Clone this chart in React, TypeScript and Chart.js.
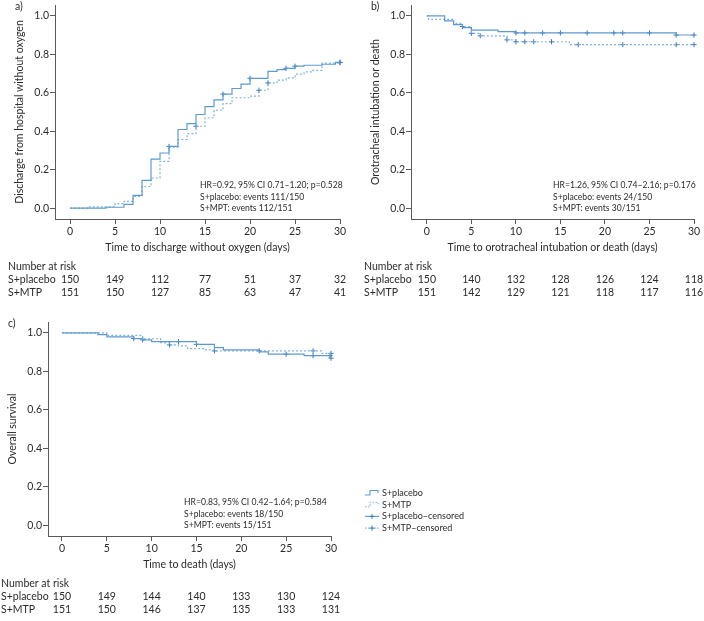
import React, { useEffect, useRef } from 'react';
import { Chart, registerables } from 'chart.js';

Chart.register(...registerables);

const FONT = 'Lato, "Noto Sans", sans-serif';
const TEXT = '#2b2b2b';
const AXIS = '#5a5a5a';
const SOLID = '#5e9ad0';
const DOTTED = '#7fb2de';
const CENS = '#3b78b6';

// shared axis ticks
const xTicks = [0, 5, 10, 15, 20, 25, 30];
const yTicks = [0, 0.2, 0.4, 0.6, 0.8, 1.0];

// ---------- Panel a: discharge without oxygen (cumulative) ----------
const aPlaceboDays = [0, 4, 6, 7, 8, 9, 10, 11, 12, 13, 14, 15, 16, 17, 18, 19, 20, 22, 23, 24, 25, 26, 28, 29.5, 30];
const aPlaceboProb = [0, 0.005, 0.02, 0.067, 0.145, 0.255, 0.287, 0.321, 0.409, 0.44, 0.487, 0.528, 0.563, 0.593, 0.622, 0.645, 0.675, 0.711, 0.72, 0.727, 0.738, 0.743, 0.748, 0.758, 0.758];
const aMtpDays = [0, 2, 5, 6, 7, 8, 9, 10, 11, 12, 13, 14, 15, 16, 17, 18, 20, 21, 22, 23, 24, 25, 26, 27, 28, 30];
const aMtpProb = [0, 0.007, 0.024, 0.036, 0.062, 0.113, 0.157, 0.243, 0.318, 0.357, 0.388, 0.426, 0.47, 0.509, 0.543, 0.574, 0.582, 0.613, 0.651, 0.666, 0.677, 0.697, 0.708, 0.716, 0.754, 0.757];
const aPlaceboCensDays = [11, 17, 20, 24, 25, 30];
const aPlaceboCensProb = [0.321, 0.593, 0.675, 0.727, 0.738, 0.758];
const aMtpCensDays = [14, 21, 22, 30];
const aMtpCensProb = [0.426, 0.613, 0.651, 0.757];
const aRiskPlacebo = [150, 149, 112, 77, 51, 37, 32];
const aRiskMtp = [151, 150, 127, 85, 63, 47, 41];
const aNotes = ['HR=0.92, 95% CI 0.71\u20131.20; p=0.528', 'S+placebo: events 111/150', 'S+MPT: events 112/151'];

// ---------- Panel b: orotracheal intubation or death ----------
const bPlaceboDays = [0, 2, 3, 4, 5, 8, 10, 28, 30];
const bPlaceboProb = [1, 0.973, 0.954, 0.938, 0.925, 0.918, 0.911, 0.9, 0.9];
const bMtpDays = [0, 0.2, 3, 4, 5, 6, 9, 10, 16, 30];
const bMtpProb = [1, 0.981, 0.961, 0.944, 0.909, 0.896, 0.875, 0.865, 0.85, 0.85];
const bPlaceboCensDays = [10, 11, 13, 15, 18, 21, 22, 25, 28, 30];
const bPlaceboCensProb = [0.911, 0.911, 0.911, 0.911, 0.911, 0.911, 0.911, 0.911, 0.9, 0.9];
const bMtpCensDays = [4, 5, 6, 9, 10, 11, 12, 14, 17, 22, 28, 30];
const bMtpCensProb = [0.944, 0.909, 0.896, 0.875, 0.865, 0.865, 0.865, 0.865, 0.85, 0.85, 0.85, 0.85];
const bRiskPlacebo = [150, 140, 132, 128, 126, 124, 118];
const bRiskMtp = [151, 142, 129, 121, 118, 117, 116];
const bNotes = ['HR=1.26, 95% CI 0.74\u20132.16; p=0.176', 'S+placebo: events 24/150', 'S+MPT: events 30/151'];

// ---------- Panel c: overall survival ----------
const cPlaceboDays = [0, 4, 5, 8, 9, 10, 15, 17, 18, 22, 23, 27, 29.9, 30];
const cPlaceboProb = [1, 0.99, 0.979, 0.97, 0.963, 0.954, 0.94, 0.923, 0.911, 0.901, 0.889, 0.881, 0.868, 0.868];
const cMtpDays = [0, 5, 9, 11, 12, 13, 14, 16, 17, 29, 30];
const cMtpProb = [1, 0.986, 0.969, 0.949, 0.937, 0.932, 0.918, 0.911, 0.906, 0.893, 0.893];
const cPlaceboCensDays = [8, 9, 13, 15, 25, 28, 29.9, 30];
const cPlaceboCensProb = [0.97, 0.963, 0.954, 0.94, 0.889, 0.881, 0.881, 0.868];
const cMtpCensDays = [12, 17, 22, 28, 30];
const cMtpCensProb = [0.937, 0.906, 0.906, 0.906, 0.893];
const cRiskPlacebo = [150, 149, 144, 140, 133, 130, 124];
const cRiskMtp = [151, 150, 146, 137, 135, 133, 131];
const cNotes = ['HR=0.83, 95% CI 0.42\u20131.64; p=0.584', 'S+placebo: events 18/150', 'S+MPT: events 15/151'];

const legendLabels = ['S+placebo', 'S+MTP', 'S+placebo\u2013censored', 'S+MTP\u2013censored'];

const toPts = (xs: number[], ys: number[]) => xs.map((x, i) => ({ x, y: ys[i] }));

const X_SCALE_H = 34.8;
const Y_SCALE_W = 55;
const PLOT_BOTTOM = 219;

const extrasPlugin = {
  id: 'extras',
  afterDraw(chart: any, _args: any, opts: any) {
    const ctx = chart.ctx as CanvasRenderingContext2D;
    const xs = chart.scales.x;
    const bottom = chart.chartArea.bottom;
    ctx.save();
    ctx.fillStyle = TEXT;
    ctx.textBaseline = 'middle';
    ctx.textAlign = 'left';
    ctx.font = `10.5px ${FONT}`;
    ctx.fillText(opts.label, 15, 7);

    ctx.font = `8.6px ${FONT}`;
    (opts.notes as string[]).forEach((t, i) => ctx.fillText(t, opts.noteX, bottom - 33.5 + i * 11.5));

    ctx.font = `10.5px ${FONT}`;
    ctx.fillText('Number at risk', 8, bottom + 48);
    ctx.fillText('S+placebo', 8, bottom + 61);
    ctx.fillText('S+MTP', 8, bottom + 74);
    ctx.textAlign = 'center';
    xTicks.forEach((t, i) => {
      const px = xs.getPixelForValue(t);
      ctx.fillText(String(opts.riskPlacebo[i]), px, bottom + 61);
      ctx.fillText(String(opts.riskMtp[i]), px, bottom + 74);
    });

    if (opts.legend) {
      const lx = opts.legendX;
      const ly = opts.legendY;
      const step = 11.7;
      ctx.lineWidth = 1.1;
      const drawStep = (y: number, dashed: boolean) => {
        ctx.strokeStyle = dashed ? DOTTED : SOLID;
        ctx.setLineDash(dashed ? [1.5, 1.5] : []);
        ctx.beginPath();
        ctx.moveTo(lx, y + 2);
        ctx.lineTo(lx + 5, y + 2);
        ctx.lineTo(lx + 5, y - 2.5);
        ctx.lineTo(lx + 13, y - 2.5);
        ctx.lineTo(lx + 13, y);
        ctx.stroke();
      };
      const drawCens = (y: number, dashed: boolean) => {
        ctx.strokeStyle = dashed ? DOTTED : SOLID;
        ctx.setLineDash(dashed ? [1.5, 1.5] : []);
        ctx.beginPath();
        ctx.moveTo(lx, y);
        ctx.lineTo(lx + 14, y);
        ctx.stroke();
        ctx.setLineDash([]);
        ctx.strokeStyle = CENS;
        ctx.lineWidth = 1;
        ctx.beginPath();
        ctx.moveTo(lx + 7, y - 2.5);
        ctx.lineTo(lx + 7, y + 2.5);
        ctx.moveTo(lx + 4.5, y);
        ctx.lineTo(lx + 9.5, y);
        ctx.stroke();
        ctx.lineWidth = 1.1;
      };
      drawStep(ly, false);
      drawStep(ly + step, true);
      drawCens(ly + 2 * step, false);
      drawCens(ly + 3 * step, true);
      ctx.setLineDash([]);
      ctx.font = `9px ${FONT}`;
      ctx.textAlign = 'left';
      ctx.fillStyle = TEXT;
      legendLabels.forEach((t, i) => ctx.fillText(t, lx + 17, ly + i * step));
    }
    ctx.restore();
  },
};

type PanelDef = {
  label: string;
  xTitle: string;
  yTitle: string;
  xMin: number;
  placebo: { x: number; y: number }[];
  mtp: { x: number; y: number }[];
  placeboCens: { x: number; y: number }[];
  mtpCens: { x: number; y: number }[];
  riskPlacebo: number[];
  riskMtp: number[];
  notes: string[];
  noteX: number;
  legend?: boolean;
};

function buildConfig(p: PanelDef, width: number, height: number, plotRight: number): any {
  const tickFont = { family: FONT, size: 10.5 };
  return {
    type: 'line',
    data: {
      datasets: [
        { label: 'S+placebo', data: p.placebo, stepped: true, borderColor: SOLID, borderWidth: 1.2, pointRadius: 0, fill: false, clip: 6 },
        { label: 'S+MTP', data: p.mtp, stepped: true, borderColor: DOTTED, borderDash: [2, 2], borderWidth: 1.2, pointRadius: 0, fill: false, clip: 6 },
        { label: 'S+placebo\u2013censored', data: p.placeboCens, showLine: false, pointStyle: 'cross', pointRadius: 2.6, borderColor: CENS, backgroundColor: CENS, pointBorderWidth: 1, clip: 6 },
        { label: 'S+MTP\u2013censored', data: p.mtpCens, showLine: false, pointStyle: 'cross', pointRadius: 2.6, borderColor: CENS, backgroundColor: CENS, pointBorderWidth: 1, clip: 6 },
      ],
    },
    options: {
      responsive: false,
      animation: false,
      events: [],
      layout: { padding: { top: 2, left: 0, right: width - plotRight, bottom: height - PLOT_BOTTOM - X_SCALE_H } },
      plugins: {
        legend: { display: false },
        tooltip: { enabled: false },
        extras: {
          label: p.label,
          notes: p.notes,
          noteX: p.noteX,
          riskPlacebo: p.riskPlacebo,
          riskMtp: p.riskMtp,
          legend: !!p.legend,
          legendX: 372,
          legendY: 176,
        },
      },
      scales: {
        x: {
          type: 'linear',
          min: p.xMin,
          max: 30,
          afterBuildTicks: (s: any) => { s.ticks = xTicks.map((v) => ({ value: v })); },
          afterFit: (s: any) => { s.height = X_SCALE_H; s.paddingLeft = 0; s.paddingRight = 0; },
          grid: { drawOnChartArea: false, drawTicks: true, tickLength: 5, color: AXIS, lineWidth: 1 },
          border: { display: true, color: AXIS, width: 1 },
          ticks: { color: TEXT, font: tickFont, padding: 1, maxRotation: 0, autoSkip: false, callback: (v: any) => String(v) },
          title: { display: true, text: p.xTitle, color: TEXT, font: tickFont, padding: { top: 0, bottom: 0 } },
        },
        y: {
          type: 'linear',
          min: -0.056,
          max: 1.056,
          afterBuildTicks: (s: any) => { s.ticks = yTicks.map((v) => ({ value: v })); },
          afterFit: (s: any) => { s.width = Y_SCALE_W; s.paddingTop = 0; s.paddingBottom = 0; },
          grid: { drawOnChartArea: false, drawTicks: true, tickLength: 5, color: AXIS, lineWidth: 1 },
          border: { display: true, color: AXIS, width: 1 },
          ticks: { color: TEXT, font: tickFont, padding: 1, callback: (v: any) => Number(v).toFixed(1) },
          title: { display: true, text: p.yTitle, color: TEXT, font: tickFont, padding: { top: 13.7, bottom: 0 } },
        },
      },
    },
    plugins: [extrasPlugin],
  };
}

function KMPanel(props: { def: PanelDef; left: number; top: number; width: number; height: number; plotRight: number }) {
  const ref = useRef<HTMLCanvasElement>(null);
  const { def, left, top, width, height, plotRight } = props;
  useEffect(() => {
    const chart = new Chart(ref.current as HTMLCanvasElement, buildConfig(def, width, height, plotRight));
    return () => chart.destroy();
  }, []);
  return (
    <canvas
      ref={ref}
      width={width}
      height={height}
      style={{ position: 'absolute', left, top, width, height, display: 'block' }}
    />
  );
}

const panelA: PanelDef = {
  label: 'a)',
  xTitle: 'Time to discharge without oxygen (days)',
  yTitle: 'Discharge from hospital without oxygen',
  xMin: -1.67,
  placebo: toPts(aPlaceboDays, aPlaceboProb),
  mtp: toPts(aMtpDays, aMtpProb),
  placeboCens: toPts(aPlaceboCensDays, aPlaceboCensProb),
  mtpCens: toPts(aMtpCensDays, aMtpCensProb),
  riskPlacebo: aRiskPlacebo,
  riskMtp: aRiskMtp,
  notes: aNotes,
  noteX: 200,
};

const panelB: PanelDef = {
  label: 'b)',
  xTitle: 'Time to orotracheal intubation or death (days)',
  yTitle: 'Orotracheal intubation or death',
  xMin: -1.78,
  placebo: toPts(bPlaceboDays, bPlaceboProb),
  mtp: toPts(bMtpDays, bMtpProb),
  placeboCens: toPts(bPlaceboCensDays, bPlaceboCensProb),
  mtpCens: toPts(bMtpCensDays, bMtpCensProb),
  riskPlacebo: bRiskPlacebo,
  riskMtp: bRiskMtp,
  notes: bNotes,
  noteX: 197,
};

const panelC: PanelDef = {
  label: 'c)',
  xTitle: 'Time to death (days)',
  yTitle: 'Overall survival',
  xMin: -1.56,
  placebo: toPts(cPlaceboDays, cPlaceboProb),
  mtp: toPts(cMtpDays, cMtpProb),
  placeboCens: toPts(cPlaceboCensDays, cPlaceboCensProb),
  mtpCens: toPts(cMtpCensDays, cMtpCensProb),
  riskPlacebo: cRiskPlacebo,
  riskMtp: cRiskMtp,
  notes: cNotes,
  noteX: 191,
  legend: true,
};

export default function App() {
  return (
    <div
      style={{
        position: 'fixed',
        left: 0,
        top: 0,
        width: 704,
        height: 621,
        overflow: 'hidden',
        background: '#ffffff',
      }}
    >
      <KMPanel def={panelA} left={0} top={0} width={350} height={300} plotRight={340} />
      <KMPanel def={panelB} left={356} top={0} width={348} height={300} plotRight={338} />
      <KMPanel def={panelC} left={-7} top={317} width={711} height={304} plotRight={338} />
    </div>
  );
}
